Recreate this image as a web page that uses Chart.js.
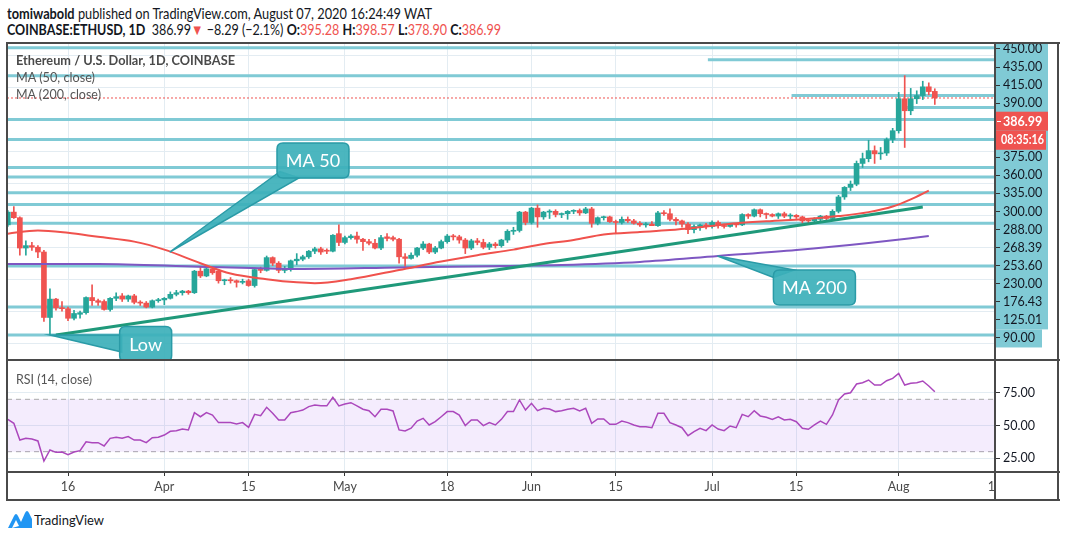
<!DOCTYPE html>
<html><head><meta charset="utf-8">
<script src="https://cdn.jsdelivr.net/npm/chart.js@4.4.0/dist/chart.umd.min.js"></script>
<style>
html,body{margin:0;padding:0}
body{width:1066px;height:537px;background:#fff;overflow:hidden;position:relative;font-family:Lato,'Open Sans',sans-serif;color:#131722}
.abs{position:absolute;white-space:nowrap}
.r{color:#ef5350}
.ln{position:absolute;background:#4a4a4a}
#h1{left:7px;top:4px;font-size:15px;line-height:18px}
#h2{left:7px;top:20px;font-size:15px;line-height:18px}
.lg{left:16px;font-size:13.5px;line-height:16px;color:#555}
</style></head>
<body>
<div id="h1" class="abs"><b>tomiwabold</b> published on TradingView.com, August 07, 2020 16:24:49 WAT</div>
<div id="h2" class="abs"><b>COINBASE:ETHUSD, 1D</b>&nbsp; 386.99<span class="r">▼</span> −8.29 (−2.1%) <b>O:</b><span class="r">395.28</span> <b>H:</b><span class="r">398.57</span> <b>L:</b><span class="r">378.90</span> <b>C:</b><span class="r">386.99</span></div>

<canvas id="c1" width="1052" height="317" class="abs" style="left:7px;top:43px;width:1052px;height:317px"></canvas>
<canvas id="c2" width="1052" height="140" class="abs" style="left:7px;top:360px;width:1052px;height:140px"></canvas>

<div id="lg1" class="abs lg" style="top:52px;font-weight:bold;color:#4a4a4a">Ethereum / U.S. Dollar, 1D, COINBASE</div>
<div id="lg2" class="abs lg" style="top:69px">MA (50, close)</div>
<div id="lg3" class="abs lg" style="top:86px">MA (200, close)</div>
<div id="lg4" class="abs lg" style="top:371px">RSI (14, close)</div>

<div class="ln" style="left:6px;top:42px;width:1054px;height:2px"></div>
<div class="ln" style="left:6px;top:499px;width:1054px;height:2px"></div>
<div class="ln" style="left:6px;top:42px;width:2px;height:459px"></div>
<div class="ln" style="left:1057px;top:42px;width:2px;height:459px"></div>
<div class="ln" style="left:6px;top:359px;width:1054px;height:2px"></div>
<div class="ln" style="left:6px;top:471px;width:1054px;height:2px"></div>
<div class="ln" style="left:994px;top:42px;width:2px;height:459px"></div>

<svg class="abs" style="left:8px;top:510px" width="24" height="18" viewBox="0 0 24 18">
<path d="M0 18 L6 6 Q8 2 10 6 L13 12 L17 3 Q19 -1 21 3 L24 9 L24 18 Z" fill="#2196f3"/>
<path d="M4 18 L8 10 L11 16 Z" fill="#fff"/>
</svg>
<div id="tvtxt" class="abs" style="left:34px;top:511px;font-size:14px;line-height:17px;color:#131722">TradingView</div>

<script>
// ---------------- DATA ----------------
const START_DAY = 5;               // day index counted from Mar 1, 2020 -> Mar 6
const openMar=[228,244,237,199,202,200,194,112,135,124,123,111,116,118,137,133,132,122,136,139,135,139,131,130,125,133];
const openApr=[134,136,141,143,145,143,170,164,173,170,158,159,158,156,158,152,172,171,187,180,171,172,183,185,188,195,198,196,195,217];
const openMay=[206,212,214,210,207,205,199,213,212,210,188,186,190,199,204,194,199,207,214,213,209,199,208,206,200,204,202,209,220,221,244];
const openJun=[231,249,238,244,245,241,242,245,246,243,248,230,237,238,232,231,235,233,230,228,229,227,243,242,235,233,229,222,226,228];
const openJul=[226,231,227,226,229,228,241,239,247,242,241,239,242,239,240,238,234,233,235,239,236,245,263,275,279,305,311,321,317,318,335];
const openAug=[346,386,371,386,390,401,395.28];

const highMar=[246,251,238,208,206,202,196,148,136,132,125,121,120,138,153,135,134,137,143,142,140,141,133,132,134,136];
const highApr=[137,144,146,146,146,171,176,175,174,171,160,162,159,160,160,174,175,189,188,182,176,184,192,190,196,200,200,198,216,228];
const highMay=[214,216,219,211,210,210,215,217,214,211,192,193,200,207,205,201,209,216,216,215,211,210,211,210,206,206,210,222,225,245,245];
const highJun=[250,253,245,247,247,243,246,247,248,250,250,238,239,239,234,238,238,235,232,231,232,245,246,248,237,234,231,228,229,230];
const highJul=[233,233,229,230,230,242,242,248,248,243,242,243,244,242,241,239,236,237,240,240,247,265,276,283,308,318,334,327,325,337,349];
const highAug=[394,415,399,396,408,406,398.57];

const lowMar=[226,236,190,190,196,187,107,90,121,120,108,109,111,116,127,127,121,120,133,132,132,129,127,124,124,131];
const lowApr=[128,135,139,140,141,142,162,163,166,155,153,155,150,154,151,150,168,170,177,168,168,170,178,183,186,192,191,192,194,202];
const lowMay=[204,210,205,196,203,198,197,208,208,180,176,185,188,197,192,192,198,205,209,205,192,197,203,198,197,199,200,206,216,219,228];
const lowJun=[229,225,235,236,238,237,235,242,240,242,225,228,234,231,217,229,231,229,226,225,227,226,240,233,228,225,217,218,221,223];
const lowJul=[224,224,224,225,225,227,236,238,238,236,238,236,237,235,236,230,230,231,233,234,235,243,260,271,277,300,307,305,310,315,331];
const lowAug=[343,325,366,380,385,391,378.90];

const closeMar=[244,237,199,202,200,194,112,135,124,123,111,117,118,137,133,131,122,136,138,135,139,131,130,125,133,134];
const closeApr=[136,141,143,145,143,170,164,173,168,158,159,158,156,157,152,172,171,187,180,171,172,183,185,188,195,198,194,195,215,206];
const closeMay=[212,214,210,207,205,199,212,211,210,188,186,190,199,204,194,199,207,214,213,209,199,208,206,200,204,202,209,220,221,244,231];
const closeJun=[249,238,244,245,241,242,245,246,243,248,230,237,238,232,231,235,233,230,228,229,227,243,242,235,233,229,222,226,228,226];
const closeJul=[231,227,226,229,228,241,239,247,242,241,239,242,239,240,238,233,233,235,239,236,245,263,275,279,305,311,321,317,318,335,346];
const closeAug=[386,371,386,390,401,395,386.99];

const rsiMar=[54.7,51.7,38.9,40.2,39.7,38.2,22.9,31.3,29.5,29.7,27.7,29.8,30.8,37.6,36.9,36.9,34.4,40.2,41.0,40.2,41.5,38.9,38.9,36.9,40.7,41.0];
const rsiApr=[42.7,45.6,46.0,47.3,46.6,59.8,56.7,59.8,58.0,52.2,52.2,52.2,51.1,52.2,48.6,58.5,57.5,63.9,59.3,54.2,54.2,59.8,60.6,61.8,64.4,65.6,65.0,65.0,71.5,65.0];
const rsiMay=[66.4,67.4,65.0,62.4,61.3,56.7,62.4,62.4,61.1,46.6,45.8,47.9,53.4,55.5,50.4,52.9,56.7,60.6,60.6,58.0,49.9,54.2,54.2,49.9,52.2,50.4,54.7,60.6,60.6,69.5,61.8];
const rsiJun=[66.9,61.3,63.1,62.6,60.6,61.3,62.4,63.1,61.1,63.1,51.7,55.0,55.0,50.9,50.9,53.4,52.2,50.4,49.1,49.1,48.3,59.3,59.3,52.2,50.4,48.3,42.2,45.3,47.9,46.1];
const rsiJul=[50.4,47.3,46.1,49.6,48.3,58.5,56.7,61.3,57.3,56.3,54.7,56.7,54.2,54.7,52.9,47.9,47.1,50.4,53.4,50.9,58.0,69.5,74.0,75.0,81.7,82.7,84.7,80.9,80.9,84.2,86.0];
const rsiAug=[89.8,80.9,82.2,82.7,84.0,80.2,75.8];

const ma50Days=[5,10,15,20,26,31,37,42,48,53,56,62,70,77,83,89,94,99,104,110,115,121,126,132,137,143,148,152,155,158];
const ma50Vals=[217,221,218,213,207,197,180,167,160,156,155,160,171.5,182,190,197,204,209,216,219,221.5,226,230,233,235,239,244,251,260,271];
const ma200Days=[5,20,37,53,70,87,97,110,123,136,148,158];
const ma200Vals=[179,179,175.6,172.7,174.6,176.5,177.7,181.5,189,196.5,205.3,214];

const trendDays=[13,157];
const trendVals=[90,250.4];

const levelVals=[450,435,415,390,375,360,335,300,288,268.39,253.6,230,176.43,125.01,90];
const levelFrom=[null,121.3,null,135.2,154.4,null,null,null,null,null,null,null,null,null,null];
const lastPrice=386.99;
const priceAxisLabels=['450.00','435.00','415.00','390.00','386.99','08:35:16','375.00','360.00','335.00','300.00','288.00','268.39','253.60','230.00','176.43','125.01','90.00'];

const tickDays=[15,31,45,61,78,92,106,122,136,153,169];
const tickLabels=['16','Apr','15','May','18','Jun','15','Jul','15','Aug','17'];

const callouts=[
  {text:'MA 50', tipDay:31.9, tipPrice:194, boxDay:55.7, boxPrice:308.7, w:72, h:35, base:[[-33,11],[-14,17.5]]},
  {text:'MA 200', tipDay:122.9, tipPrice:189, boxDay:139.0, boxPrice:149.5, w:82, h:35, base:[[-41,-10],[-20,-17.5]]},
  {text:'Low', tipDay:12, tipPrice:90, boxDay:27.9, boxPrice:78.7, w:52, h:35, base:[[-24,-9],[-24,8]]}
];

// ---------------- BUILD ----------------
const opens=[].concat(openMar,openApr,openMay,openJun,openJul,openAug);
const highs=[].concat(highMar,highApr,highMay,highJun,highJul,highAug);
const lows=[].concat(lowMar,lowApr,lowMay,lowJun,lowJul,lowAug);
const closes=[].concat(closeMar,closeApr,closeMay,closeJun,closeJul,closeAug);
const rsi=[].concat(rsiMar,rsiApr,rsiMay,rsiJun,rsiJul,rsiAug);
const days=opens.map((_,i)=>START_DAY+i);

const GREEN='#26a69a', RED='#ef5350', BLUE='#80cad5', PURPLE='#7e57c2', MARED='#f0524d', RSIC='#ab47bc',
      GRID='#e3ecf2', TREND='#1f997a', DARK='#131722';
const X_MIN=4.865, X_MAX=169;
const Y_MIN=58.7, Y_MAX=455.9;

Chart.defaults.font.family='Lato, "Open Sans", sans-serif';
const colors=days.map((_,i)=>closes[i]>=opens[i]?GREEN:RED);

function noPad(s){s.paddingTop=0;s.paddingBottom=0;s.paddingLeft=0;s.paddingRight=0;}

const ds=[];
ds.push({type:'bar',data:days.map((d,i)=>({x:d,y:[lows[i],highs[i]]})),backgroundColor:colors,barThickness:1,grouped:false,borderWidth:0,order:6,yAxisID:'y'});
ds.push({type:'bar',data:days.map((d,i)=>({x:d,y:[opens[i],closes[i]]})),backgroundColor:colors,barThickness:5,minBarLength:1,grouped:false,borderWidth:0,order:5,yAxisID:'y'});
levelVals.forEach((v,i)=>{
  ds.push({type:'line',data:[{x:levelFrom[i]==null?X_MIN:levelFrom[i],y:v},{x:X_MAX,y:v}],borderColor:BLUE,borderWidth:3,pointRadius:0,order:20,yAxisID:'y',clip:0});
});
ds.push({type:'line',data:[{x:X_MIN,y:lastPrice},{x:X_MAX,y:lastPrice}],borderColor:RED,borderWidth:1,borderDash:[2,2],pointRadius:0,order:19,yAxisID:'y'});
ds.push({type:'line',data:ma50Days.map((d,i)=>({x:d,y:ma50Vals[i]})),borderColor:MARED,borderWidth:2,pointRadius:0,cubicInterpolationMode:'monotone',order:3,yAxisID:'y'});
ds.push({type:'line',data:ma200Days.map((d,i)=>({x:d,y:ma200Vals[i]})),borderColor:PURPLE,borderWidth:2,pointRadius:0,cubicInterpolationMode:'monotone',order:3,yAxisID:'y'});
ds.push({type:'line',data:trendDays.map((d,i)=>({x:d,y:trendVals[i]})),borderColor:TREND,borderWidth:3,pointRadius:0,order:1,yAxisID:'y'});

function rr(ctx,x,y,w,h,r){ctx.beginPath();ctx.moveTo(x+r,y);ctx.lineTo(x+w-r,y);ctx.quadraticCurveTo(x+w,y,x+w,y+r);ctx.lineTo(x+w,y+h-r);ctx.quadraticCurveTo(x+w,y+h,x+w-r,y+h);ctx.lineTo(x+r,y+h);ctx.quadraticCurveTo(x,y+h,x,y+h-r);ctx.lineTo(x,y+r);ctx.quadraticCurveTo(x,y,x+r,y);ctx.closePath();}

function fitText(ctx,text,x,y,maxW){
  const w=ctx.measureText(text).width;
  ctx.save();ctx.translate(x,y);if(w>maxW)ctx.scale(maxW/w,1);ctx.fillText(text,0,0);ctx.restore();
}

const mainPlugin={
  id:'mainDeco',
  beforeDraw(chart){
    const ctx=chart.ctx, a=chart.chartArea, yl=chart.scales.yLab;
    ctx.save();ctx.fillStyle=BLUE;
    const yTop=a.top, y125=yl.getPixelForValue(15)+9.5, y90=yl.getPixelForValue(16)+9.5;
    ctx.fillRect(a.right,yTop,53,y125-yTop);
    ctx.fillRect(a.right,y125,47,y90-y125);
    ctx.restore();
  },
  afterDatasetsDraw(chart){
    const ctx=chart.ctx, a=chart.chartArea, xs=chart.scales.x, ys=chart.scales.y;
    ctx.save();
    ctx.beginPath();ctx.rect(a.left,a.top,a.right-a.left,a.bottom-a.top);ctx.clip();
    callouts.forEach(c=>{
      const tx=xs.getPixelForValue(c.tipDay), ty=ys.getPixelForValue(c.tipPrice);
      const cx=xs.getPixelForValue(c.boxDay), cy=ys.getPixelForValue(c.boxPrice);
      ctx.fillStyle='rgba(60,176,186,0.92)';ctx.strokeStyle='#2a9ba7';ctx.lineWidth=1.5;
      ctx.beginPath();ctx.moveTo(tx,ty);ctx.lineTo(cx+c.base[0][0],cy+c.base[0][1]);ctx.lineTo(cx+c.base[1][0],cy+c.base[1][1]);ctx.closePath();
      ctx.fill();ctx.stroke();
      rr(ctx,cx-c.w/2,cy-c.h/2,c.w,c.h,6);ctx.fill();ctx.stroke();
      ctx.fillStyle='#ffffff';ctx.font='18px Lato, "Open Sans", sans-serif';ctx.textAlign='center';ctx.textBaseline='middle';
      ctx.fillText(c.text,cx,cy+1);
    });
    ctx.restore();
  },
  afterDraw(chart){
    const ctx=chart.ctx, a=chart.chartArea, yl=chart.scales.yLab;
    ctx.save();
    const yb=yl.getPixelForValue(4), yt=yl.getPixelForValue(5);
    ctx.fillStyle=RED;ctx.fillRect(a.right,yb-9.5,53,19);
    ctx.fillRect(a.right+1,yt-8.5,50,19);
    ctx.fillStyle='#fff';ctx.fillRect(a.right+2,Math.round(yb),4,1);
    ctx.font='bold 12.5px Lato, "Open Sans", sans-serif';ctx.textBaseline='middle';ctx.textAlign='left';
    fitText(ctx,priceAxisLabels[4],a.right+8,yb+1,40);
    fitText(ctx,priceAxisLabels[5],a.right+6,yt+1,43);
    ctx.restore();
  }
};

new Chart(document.getElementById('c1'),{
  type:'bar',
  data:{datasets:ds},
  options:{
    responsive:false,animation:false,devicePixelRatio:1,
    layout:{padding:0},
    plugins:{legend:{display:false},tooltip:{enabled:false}},
    scales:{
      x:{type:'linear',min:X_MIN,max:X_MAX,offset:false,
         afterBuildTicks(s){s.ticks=tickDays.map(v=>({value:v}));},
         afterFit(s){s.height=0;noPad(s);},
         ticks:{display:false},grid:{color:GRID,drawTicks:false,offset:false,lineWidth:1},border:{display:false}},
      y:{type:'linear',position:'right',weight:0,min:Y_MIN,max:Y_MAX,
         afterFit(s){s.width=0;noPad(s);},
         ticks:{display:false,stepSize:40,includeBounds:false},grid:{color:GRID,drawTicks:false},border:{display:false}},
      yLab:{type:'linear',position:'right',weight:1,reverse:true,min:-0.33,max:17.22,
         afterFit(s){s.width=64;noPad(s);},
         afterBuildTicks(s){s.ticks=priceAxisLabels.map((_,i)=>({value:i})).filter(t=>t.value!==4&&t.value!==5);},
         ticks:{autoSkip:false,padding:3,color:DARK,font:{size:12.5},callback:v=>priceAxisLabels[v]},
         grid:{drawOnChartArea:false,drawTicks:true,tickLength:5,tickColor:'#333'},border:{display:false}}
    }
  },
  plugins:[mainPlugin]
});

const rsiPlugin={
  id:'rsiDeco',
  afterDraw(chart){
    const ctx=chart.ctx,a=chart.chartArea;
    ctx.save();ctx.fillStyle='#fff';ctx.fillRect(a.right+1,a.bottom+1,chart.width-a.right,chart.height-a.bottom);ctx.restore();
  }
};

new Chart(document.getElementById('c2'),{
  type:'line',
  data:{datasets:[
    {data:[{x:X_MIN,y:70},{x:X_MAX,y:70}],borderColor:'#a9a9a9',borderWidth:1,borderDash:[5,4],pointRadius:0,fill:'+1',backgroundColor:'rgba(156,80,235,0.11)',order:3},
    {data:[{x:X_MIN,y:30},{x:X_MAX,y:30}],borderColor:'#a9a9a9',borderWidth:1,borderDash:[5,4],pointRadius:0,fill:false,order:3},
    {data:days.map((d,i)=>({x:d,y:rsi[i]})),borderColor:RSIC,borderWidth:1.5,pointRadius:0,tension:0,fill:false,order:1}
  ]},
  options:{
    responsive:false,animation:false,devicePixelRatio:1,
    layout:{padding:0},
    plugins:{legend:{display:false},tooltip:{enabled:false}},
    scales:{
      x:{type:'linear',min:X_MIN,max:X_MAX,offset:false,
         afterBuildTicks(s){s.ticks=tickDays.map(v=>({value:v}));},
         afterFit(s){s.height=28;noPad(s);},
         ticks:{autoSkip:false,maxRotation:0,padding:3,color:'#4a4a4a',font:{size:12.5},callback:v=>tickLabels[tickDays.indexOf(v)]},
         grid:{color:GRID,drawTicks:true,tickLength:4,tickColor:'#333'},border:{display:false}},
      y:{type:'linear',position:'right',min:14.5,max:100,
         afterFit(s){s.width=64;noPad(s);},
         afterBuildTicks(s){s.ticks=[25,50,75].map(v=>({value:v}));},
         ticks:{padding:3,color:DARK,font:{size:12.5},callback:v=>v.toFixed(2)},
         grid:{color:GRID,drawTicks:true,tickLength:5,tickColor:'#333'},border:{display:false}}
    }
  },
  plugins:[rsiPlugin]
});

function fitX(id,w){const el=document.getElementById(id);el.style.transform='none';const cw=el.getBoundingClientRect().width;el.style.transformOrigin='0 50%';el.style.transform='scaleX('+(w/cw)+')';}
function fitAll(){fitX('h1',425);fitX('h2',494);fitX('lg1',219);fitX('lg2',79);fitX('lg3',85);fitX('lg4',76);fitX('tvtxt',70);}
fitAll();
if(document.fonts&&document.fonts.ready)document.fonts.ready.then(fitAll);
</script>
</body></html>
